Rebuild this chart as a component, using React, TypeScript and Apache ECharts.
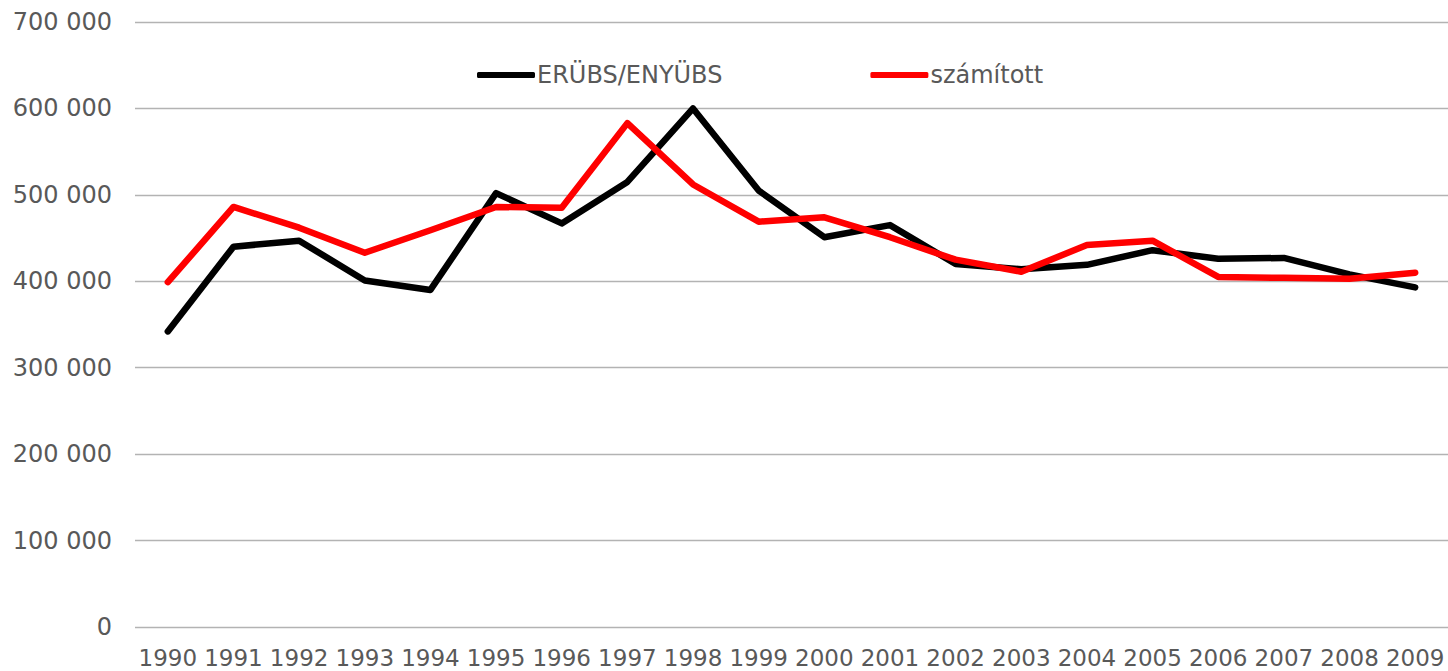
import React, { useEffect, useRef } from "react";
import * as echarts from "echarts";

const years = ["1990","1991","1992","1993","1994","1995","1996","1997","1998","1999","2000","2001","2002","2003","2004","2005","2006","2007","2008","2009"];
const erubs = [342000,440000,447000,401000,390000,502000,467000,515000,600000,505000,451000,465000,420000,414000,419000,436000,426000,427000,408000,393000];
const szamitott = [399000,486000,462000,433000,459000,486000,485000,583000,512000,469000,474000,451000,425000,411000,442000,447000,405000,404000,403000,410000];
const seriesNames = ["ERÜBS/ENYÜBS", "számított"];

const FONT = "DejaVu Sans";
const TXT = "#595959";

function fmt(v: number): string {
  const s = String(Math.round(v));
  return s.replace(/\B(?=(\d{3})+(?!\d))/g, " ");
}

export default function App() {
  const ref = useRef<HTMLDivElement>(null);
  useEffect(() => {
    if (!ref.current) return;
    const chart = echarts.init(ref.current, undefined, { renderer: "svg" });
    chart.setOption({
      animation: false,
      backgroundColor: "#ffffff",
      grid: { left: 135, right: 0, top: 22, bottom: 44, containLabel: false },
      legend: {
        left: 472,
        top: 58,
        itemGap: 148,
        itemWidth: 58,
        itemHeight: 6,
        icon: "roundRect",
        textStyle: { color: TXT, fontFamily: FONT, fontSize: 24, padding: [0, 0, 0, -3] },
        data: seriesNames,
      },
      xAxis: {
        type: "category",
        data: years,
        boundaryGap: true,
        axisLine: { show: false },
        axisTick: { show: false },
        axisLabel: { interval: 0, color: TXT, fontFamily: FONT, fontSize: 23, lineHeight: 22, margin: 20 },
      },
      yAxis: {
        type: "value",
        min: 0,
        max: 700000,
        interval: 100000,
        axisLine: { show: false },
        axisTick: { show: false },
        splitLine: { lineStyle: { color: "#b3b3b3", width: 1.3 } },
        axisLabel: { color: TXT, fontFamily: FONT, fontSize: 24, margin: 23, formatter: (v: number) => fmt(v) },
      },
      series: [
        {
          name: seriesNames[0],
          type: "line",
          data: erubs,
          symbol: "none",
          lineStyle: { color: "#000000", width: 6.5, cap: "round", join: "round" },
          itemStyle: { color: "#000000" },
        },
        {
          name: seriesNames[1],
          type: "line",
          data: szamitott,
          symbol: "none",
          lineStyle: { color: "#ff0000", width: 6.5, cap: "round", join: "round" },
          itemStyle: { color: "#ff0000" },
        },
      ],
    });
    return () => chart.dispose();
  }, []);
  return <div ref={ref} style={{ width: 1448, height: 671, position: "absolute", left: 0, top: 0 }} />;
}
